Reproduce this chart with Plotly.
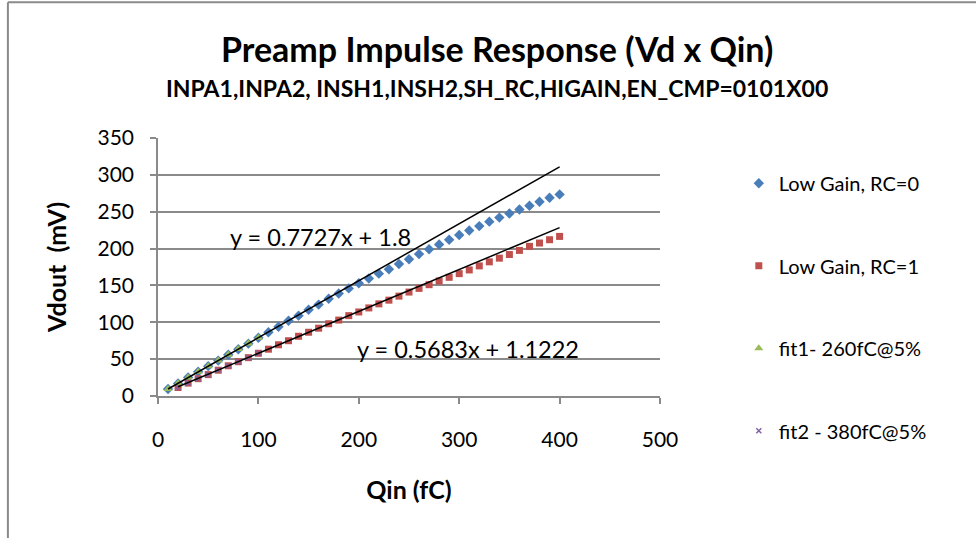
import plotly.graph_objects as go
import numpy as np

# ---------------- data ----------------
qin_rc0 = list(range(10, 410, 10))
vd_rc0 = [9.5, 17, 25, 33, 40.5, 48, 56, 63.5, 71, 79,
          86.5, 94, 102, 109, 117, 124, 132, 139, 146, 153,
          159.5, 166, 172, 179, 185.5, 192.5, 199, 205.5, 212, 218.5,
          224.5, 230.5, 236.5, 242, 247.5, 253, 258, 263.5, 269, 273.5]

qin_rc1 = list(range(20, 410, 10))
vd_rc1 = [11.5, 17.5, 23.5, 29, 35, 41, 46.5, 52, 58,
          63.5, 69.5, 75, 81, 86.5, 92, 98, 103, 109, 114,
          119.5, 125, 130, 135.5, 141, 146, 151, 156, 161, 166,
          171, 176.5, 182, 187, 192, 197.5, 203, 207.5, 212, 216.5]

qin_fit1 = list(range(10, 110, 10))
vd_fit1 = [9.5, 17.2, 25, 32.8, 40.4, 48.2, 55.9, 63.6, 71.3, 79.1]

qin_fit2 = list(range(20, 110, 10))
vd_fit2 = [11.5, 17.5, 23.5, 29, 35, 41, 46.5, 52, 58]

# trendline coefficients (as printed on chart)
slope1, intercept1 = 0.7727, 1.8
slope2, intercept2 = 0.5683, 1.1222
trend_end = 400

names = ["Low Gain, RC=0", "Low Gain, RC=1", "fit1- 260fC@5%", "fit2 - 380fC@5%"]
x_ticks = [0, 100, 200, 300, 400, 500]
y_ticks = [0, 50, 100, 150, 200, 250, 300, 350]

FONT = "Lato"
GRAY = "#8a8a8a"

fig = go.Figure()

fig.add_trace(go.Scatter(x=qin_rc0, y=vd_rc0, mode="markers", name=names[0],
                         legendgroup="a",
                         marker=dict(symbol="diamond", size=8, color="#4A7EBB")))
fig.add_trace(go.Scatter(x=qin_rc1, y=vd_rc1, mode="markers", name=names[1],
                         legendgroup="b",
                         marker=dict(symbol="square", size=7, color="#C0504D")))
fig.add_trace(go.Scatter(x=qin_fit1, y=vd_fit1, mode="markers", name=names[2],
                         legendgroup="c",
                         marker=dict(symbol="triangle-up", size=8, color="#9BBB59")))
fig.add_trace(go.Scatter(x=qin_fit2, y=vd_fit2, mode="markers", name=names[3],
                         legendgroup="d",
                         marker=dict(symbol="x-thin", size=5, color="#8064A2",
                                     line=dict(width=1.5, color="#8064A2"))))

# trendlines (linear fits extended forward)
t1x = np.array([qin_fit1[0], trend_end])
t2x = np.array([qin_fit2[0], trend_end])
fig.add_trace(go.Scatter(x=t1x, y=slope1 * t1x + intercept1, mode="lines",
                         line=dict(color="black", width=1.5), showlegend=False,
                         hoverinfo="skip"))
fig.add_trace(go.Scatter(x=t2x, y=slope2 * t2x + intercept2, mode="lines",
                         line=dict(color="black", width=1.5), showlegend=False,
                         hoverinfo="skip"))

fig.add_annotation(x=0.324, y=0.616, xref="paper", yref="paper",
                   xanchor="center", yanchor="middle",
                   text=f"y = {slope1}x + {intercept1}", showarrow=False,
                   font=dict(family=FONT, size=23.5, color="black"))
fig.add_annotation(x=0.618, y=0.182, xref="paper", yref="paper",
                   xanchor="center", yanchor="middle",
                   text=f"y = {slope2}x + {intercept2}", showarrow=False,
                   font=dict(family=FONT, size=23.5, color="black"))

# titles
fig.add_annotation(x=0.675, y=1.345, xref="paper", yref="paper",
                   xanchor="center", yanchor="middle",
                   text="<b>Preamp Impulse Response (Vd x Qin)</b>", showarrow=False,
                   font=dict(family=FONT, size=34, color="black"))
fig.add_annotation(x=0.675, y=1.194, xref="paper", yref="paper",
                   xanchor="center", yanchor="middle",
                   text="<b>INPA1,INPA2, INSH1,INSH2,SH_RC,HIGAIN,EN_CMP=0101X00</b>",
                   showarrow=False,
                   font=dict(family=FONT, size=23, color="black"))

# chart border (top and left)
fig.add_shape(type="line", xref="paper", yref="paper",
              x0=-0.299, x1=1.7, y0=1.526, y1=1.526,
              line=dict(color=GRAY, width=2))
fig.add_shape(type="line", xref="paper", yref="paper",
              x0=-0.299, x1=-0.299, y0=1.526, y1=-0.6,
              line=dict(color=GRAY, width=2))

axis_common = dict(showline=True, linecolor=GRAY, linewidth=1.5,
                   ticks="outside", ticklen=6, tickcolor=GRAY, tickwidth=1.5,
                   tickfont=dict(family=FONT, size=21, color="black"),
                   zeroline=False)

fig.update_layout(
    width=976, height=538,
    margin=dict(l=158, r=316, t=138, b=142),
    paper_bgcolor="white", plot_bgcolor="white",
    font=dict(family=FONT, color="black"),
    xaxis=dict(range=[0, 500], tickvals=x_ticks, showgrid=False,
               ticklabelstandoff=18,
               title=dict(text="<b>Qin (fC)</b>", font=dict(family=FONT, size=25),
                          standoff=32),
               **axis_common),
    yaxis=dict(range=[0, 350], tickvals=y_ticks, showgrid=True,
               gridcolor=GRAY, gridwidth=1.5, ticklabelstandoff=12,
               title=dict(text="<b>Vdout  (mV)</b>", font=dict(family=FONT, size=25),
                          standoff=24),
               **axis_common),
    legend=dict(x=1.157, y=0.9, xanchor="left", yanchor="top",
                font=dict(family=FONT, size=20, color="black"),
                tracegroupgap=53.5, itemsizing="trace", maxheight=520,
                bgcolor="rgba(0,0,0,0)"),
    showlegend=True,
)

fig.write_html("out.html")
